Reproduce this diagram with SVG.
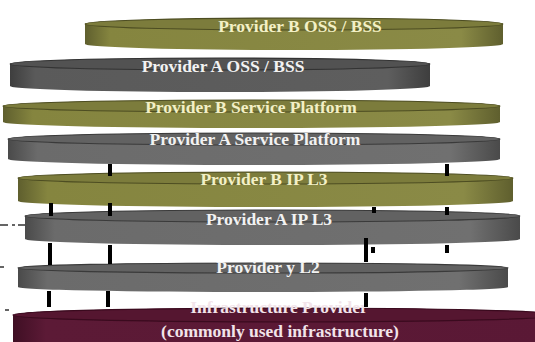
<svg xmlns="http://www.w3.org/2000/svg" width="535" height="342" viewBox="0 0 535 342">
<defs>
<linearGradient id="gOlive" x1="0" y1="0" x2="1" y2="0">
<stop offset="0" stop-color="#5f5f2e"/><stop offset="0.06" stop-color="#85853f"/><stop offset="0.9" stop-color="#8a8a46"/><stop offset="1" stop-color="#5f5f2e"/>
</linearGradient>
<linearGradient id="gGray" x1="0" y1="0" x2="1" y2="0">
<stop offset="0" stop-color="#4a4a4a"/><stop offset="0.06" stop-color="#6b6b6b"/><stop offset="0.9" stop-color="#707070"/><stop offset="1" stop-color="#4a4a4a"/>
</linearGradient>
<linearGradient id="gDark" x1="0" y1="0" x2="1" y2="0">
<stop offset="0" stop-color="#3e3e3e"/><stop offset="0.06" stop-color="#5a5a5a"/><stop offset="0.9" stop-color="#5e5e5e"/><stop offset="1" stop-color="#3e3e3e"/>
</linearGradient>
<linearGradient id="gMaroon" x1="0" y1="0" x2="1" y2="0">
<stop offset="0" stop-color="#3f0f24"/><stop offset="0.06" stop-color="#5c1a36"/><stop offset="1" stop-color="#5a1835"/>
</linearGradient>
</defs>
<style>
.olive-top{fill:#7c7c3c;stroke:#4d4d22;stroke-width:1.2}
.gray-top{fill:#626262;stroke:#3a3a3a;stroke-width:1.2}
.dark-top{fill:#525252;stroke:#333;stroke-width:1.2}
.maroon-top{fill:#551630;stroke:#3a0a1e;stroke-width:1.2}
text{font-family:"Liberation Serif","Times New Roman",serif;font-weight:bold;font-size:17.5px;text-anchor:middle}
.tc{fill:#f3f0c6}
.tw{fill:#f2f2f2}
.tp{fill:#f2e4ea}
.bar{fill:#000}
.dash{stroke:#333;stroke-width:1.5;fill:none}
</style>

<g id="infrastructure-provider">
<path d="M13,315 A273.5,7 0 0 1 560,315 L560,345 A273.5,7 0 0 1 13,345 Z" fill="url(#gMaroon)"/>
<ellipse cx="286.5" cy="315" rx="273.5" ry="7" class="maroon-top"/>
<text x="279" y="313" class="tp">Infrastructure Provider</text>
<text x="280" y="337" class="tp">(commonly used infrastructure)</text>
</g>

<g id="provider-y-l2">
<path d="M18,268 A245,5 0 0 1 508,268 L508,287 A245,5 0 0 1 18,287 Z" fill="url(#gGray)"/>
<ellipse cx="263" cy="268" rx="245" ry="5" class="gray-top"/>
<text x="268" y="273" class="tw">Provider y L2</text>
</g>

<g id="provider-a-ip-l3">
<path d="M25,216 A247.5,6 0 0 1 520,216 L520,239 A247.5,6 0 0 1 25,239 Z" fill="url(#gGray)"/>
<ellipse cx="272.5" cy="216" rx="247.5" ry="6" class="gray-top"/>
<text x="269" y="225" class="tw">Provider A IP L3</text>
</g>

<g id="provider-b-ip-l3">
<path d="M18,178 A247.5,6 0 0 1 513,178 L513,201 A247.5,6 0 0 1 18,201 Z" fill="url(#gOlive)"/>
<ellipse cx="265.5" cy="178" rx="247.5" ry="6" class="olive-top"/>
<text x="264" y="185" class="tc">Provider B IP L3</text>
</g>

<g id="provider-a-service-platform">
<path d="M8,139 A246,6 0 0 1 500,139 L500,159 A246,6 0 0 1 8,159 Z" fill="url(#gGray)"/>
<ellipse cx="254" cy="139" rx="246" ry="6" class="gray-top"/>
<text x="255" y="145" class="tw">Provider A Service Platform</text>
</g>

<g id="provider-b-service-platform">
<path d="M3,106 A248.5,6 0 0 1 500,106 L500,122 A248.5,6 0 0 1 3,122 Z" fill="url(#gOlive)"/>
<ellipse cx="251.5" cy="106" rx="248.5" ry="6" class="olive-top"/>
<text x="251" y="113" class="tc">Provider B Service Platform</text>
</g>

<g id="provider-a-oss-bss">
<path d="M10,64 A210,6 0 0 1 430,64 L430,86 A210,6 0 0 1 10,86 Z" fill="url(#gDark)"/>
<ellipse cx="220" cy="64" rx="210" ry="6" class="dark-top"/>
<text x="223" y="72" class="tw">Provider A OSS / BSS</text>
</g>

<g id="provider-b-oss-bss">
<path d="M85,24 A209,6 0 0 1 503,24 L503,44 A209,6 0 0 1 85,44 Z" fill="url(#gOlive)"/>
<ellipse cx="294" cy="24" rx="209" ry="6" class="olive-top"/>
<text x="300" y="32" class="tc">Provider B OSS / BSS</text>
</g>

<g id="connectors">
<rect class="bar" x="108" y="164" width="4" height="12"/>
<rect class="bar" x="445" y="164" width="4" height="12"/>
<rect class="bar" x="49" y="203" width="4" height="13"/>
<rect class="bar" x="108" y="203" width="4" height="13"/>
<rect class="bar" x="372" y="207" width="4" height="6"/>
<rect class="bar" x="445" y="207" width="4" height="8"/>
<rect class="bar" x="48" y="243" width="4" height="22"/>
<rect class="bar" x="108" y="245" width="4" height="19"/>
<rect class="bar" x="364" y="238" width="4" height="24"/>
<rect class="bar" x="371" y="247" width="4" height="6"/>
<rect class="bar" x="445" y="245" width="4" height="8"/>
<rect class="bar" x="47" y="291" width="4" height="16"/>
<rect class="bar" x="106" y="291" width="4" height="16"/>
<rect class="bar" x="364" y="293" width="4" height="14"/>
<path class="dash" d="M0,225 H8 M12,225 H15 M18,225 H25 M0,267 H4 M5,310 H9"/>
</g>
</svg>
